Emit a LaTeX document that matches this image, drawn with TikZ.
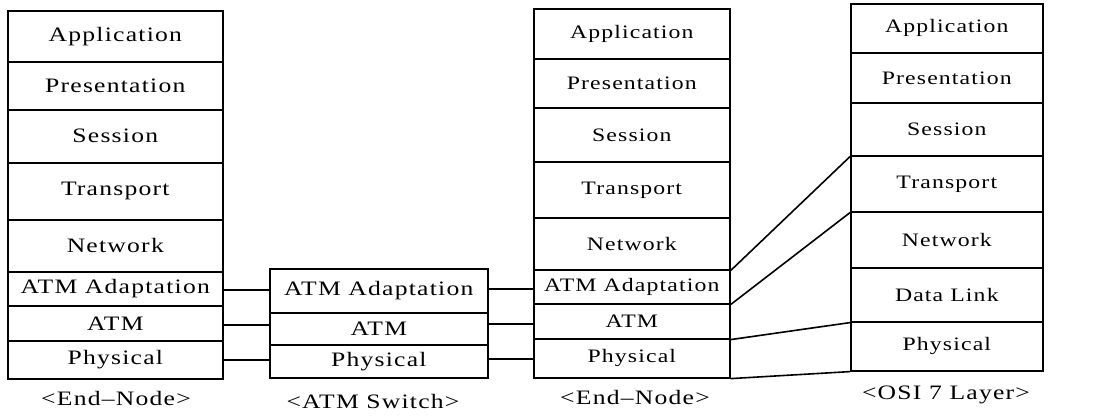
\documentclass[tikz,border=0pt]{standalone}
\usepackage{fontspec}
\setmainfont{Liberation Serif}[FakeStretch=1.25, LetterSpace=6]
\usetikzlibrary{calc}
\tikzset{
  layer/.style={draw, line width=1.6pt, rectangle, anchor=north west, inner sep=0pt},
  wide/.style={layer, font=\fontsize{20.5}{24}\selectfont},
  narrow/.style={layer, font=\fontsize{19}{23}\selectfont},
  link/.style={line width=1.6pt},
  caption/.style={font=\fontsize{20.5}{24}\selectfont, inner sep=0pt}
}
\begin{document}
\begin{tikzpicture}[x=1pt, y=-1pt]
\useasboundingbox (0,0) rectangle (1101,418);

% left end node
\node[wide, minimum width=215, minimum height=51] (aapp) at (7,10)  {Application};
\node[wide, minimum width=215, minimum height=48] (apre) at (7,61)  {Presentation};
\node[wide, minimum width=215, minimum height=53] (ases) at (7,109) {Session};
\node[wide, minimum width=215, minimum height=57] (atra) at (7,162) {Transport};
\node[wide, minimum width=215, minimum height=52] (anet) at (7,219) {Network};
\node[wide, minimum width=215, minimum height=34] (aaal) at (7,271) {ATM Adaptation};
\node[wide, minimum width=215, minimum height=35] (aatm) at (7,305) {ATM};
\node[wide, minimum width=215, minimum height=38] (aphy) at (7,340) {Physical\hspace{14pt}};

% ATM switch
\node[wide, minimum width=218, minimum height=44] (saal) at (269,268) {ATM Adaptation};
\node[wide, minimum width=218, minimum height=32] (satm) at (269,312) {ATM};
\node[wide, minimum width=218, minimum height=33] (sphy) at (269,344) {Physical};

% right end node
\node[narrow, minimum width=196, minimum height=50] (bapp) at (533,8)   {Application};
\node[narrow, minimum width=196, minimum height=49] (bpre) at (533,58)  {Presentation};
\node[narrow, minimum width=196, minimum height=54] (bses) at (533,107) {Session};
\node[narrow, minimum width=196, minimum height=56] (btra) at (533,161) {Transport};
\node[narrow, minimum width=196, minimum height=52] (bnet) at (533,217) {Network};
\node[narrow, minimum width=196, minimum height=34] (baal) at (533,269) {ATM Adaptation};
\node[narrow, minimum width=196, minimum height=35] (batm) at (533,303) {ATM};
\node[narrow, minimum width=196, minimum height=39] (bphy) at (533,338) {Physical\hspace{20pt}};

% OSI reference stack
\node[narrow, minimum width=192, minimum height=49] (oapp) at (850,3)   {Application};
\node[narrow, minimum width=192, minimum height=50] (opre) at (850,52)  {Presentation};
\node[narrow, minimum width=192, minimum height=53] (oses) at (850,102) {Session};
\node[narrow, minimum width=192, minimum height=56] (otra) at (850,155) {Transport};
\node[narrow, minimum width=192, minimum height=56] (onet) at (850,211) {Network};
\node[narrow, minimum width=192, minimum height=54] (odl)  at (850,267) {\raisebox{-3pt}{Data Link}};
\node[narrow, minimum width=192, minimum height=49] (ophy) at (850,321) {\raisebox{3pt}{Physical}\hspace{18pt}};

% links between the end nodes and the switch
\coordinate (m1) at (0,290);
\coordinate (m2) at (0,325);
\coordinate (m3) at (0,360);
\draw[link] (aaal.east |- m1) -- (saal.west |- m1);
\draw[link] (aatm.east |- m2) -- (satm.west |- m2);
\draw[link] (aphy.east |- m3) -- (sphy.west |- m3);
\coordinate (n1) at (0,289);
\coordinate (n2) at (0,324);
\coordinate (n3) at (0,359);
\draw[link] (saal.east |- n1) -- (baal.west |- n1);
\draw[link] (satm.east |- n2) -- (batm.west |- n2);
\draw[link] (sphy.east |- n3) -- (bphy.west |- n3);

% correspondence with the OSI layers
\draw[link] (bnet.south east) -- (oses.south west);
\draw[link] (baal.south east) -- (otra.south west);
\draw[link] (batm.south east) -- (odl.south west);
\draw[link] (bphy.south east) -- (ophy.south west);

% captions
\node[caption] (capa) at (116,398) {<End–Node>};
\node[caption] (caps) at (373,401) {<ATM Switch>};
\node[caption] (capb) at (635,397) {<End–Node>};
\node[caption] (capo) at (946,395) {<OSI 7 Layer>};
\end{tikzpicture}
\end{document}
